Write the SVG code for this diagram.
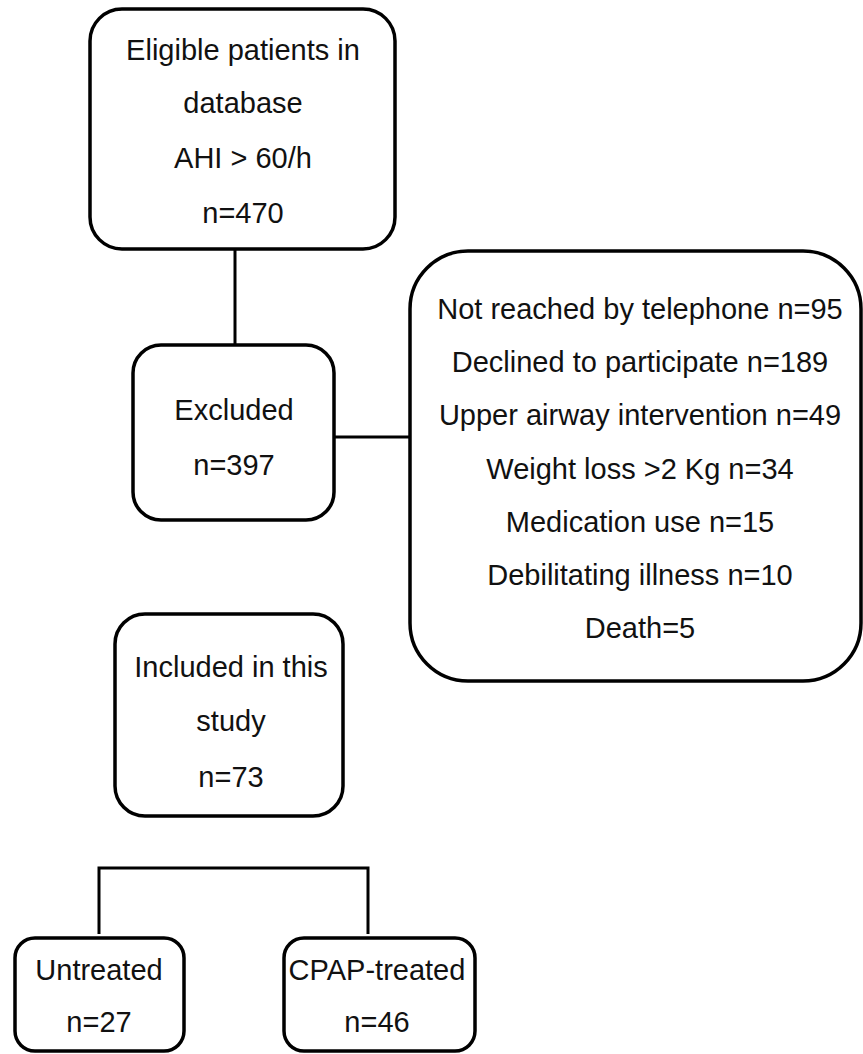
<svg xmlns="http://www.w3.org/2000/svg" width="863" height="1054" viewBox="0 0 863 1054">
<style>
.box{fill:#fff;stroke:#000;stroke-width:3.5}
.ln{fill:none;stroke:#000;stroke-width:3}
text{font-family:"Liberation Sans",Arial,sans-serif;font-size:29px;fill:#111;text-anchor:middle}
</style>
<rect width="863" height="1054" fill="#fff"/>
<g id="connectors">
<line class="ln" x1="235" y1="249" x2="235" y2="345"/>
<line class="ln" x1="334" y1="437" x2="410" y2="437"/>
<polyline class="ln" points="99,934 99,868 368,868 368,934"/>
</g>
<g id="eligible">
<rect class="box" x="90" y="9" width="305" height="240" rx="32"/>
<text x="243" y="60">Eligible patients in</text>
<text x="243" y="113">database</text>
<text x="243" y="168">AHI &gt; 60/h</text>
<text x="243" y="223">n=470</text>
</g>
<g id="excluded">
<rect class="box" x="133" y="345" width="201" height="175" rx="28"/>
<text x="234" y="420">Excluded</text>
<text x="234" y="475">n=397</text>
</g>
<g id="reasons">
<rect class="box" x="410" y="251" width="451" height="430" rx="58"/>
<text x="640" y="319">Not reached by telephone n=95</text>
<text x="640" y="372">Declined to participate n=189</text>
<text x="640" y="425">Upper airway intervention n=49</text>
<text x="640" y="479">Weight loss &gt;2 Kg n=34</text>
<text x="640" y="532">Medication use n=15</text>
<text x="640" y="585">Debilitating illness n=10</text>
<text x="640" y="638">Death=5</text>
</g>
<g id="included">
<rect class="box" x="115" y="614" width="228" height="202" rx="30"/>
<text x="231" y="677">Included in this</text>
<text x="231" y="731">study</text>
<text x="231" y="787">n=73</text>
</g>
<g id="untreated">
<rect class="box" x="15" y="938" width="169" height="113" rx="20"/>
<text x="99" y="980">Untreated</text>
<text x="99" y="1032">n=27</text>
</g>
<g id="cpap">
<rect class="box" x="284" y="938" width="191" height="113" rx="20"/>
<text x="377" y="980">CPAP-treated</text>
<text x="377" y="1032">n=46</text>
</g>
</svg>
